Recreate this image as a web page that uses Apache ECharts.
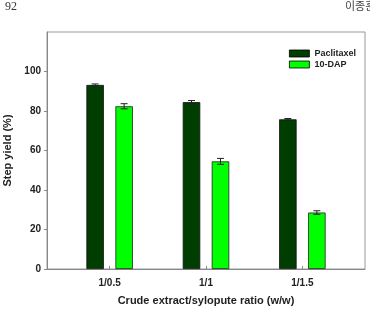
<!DOCTYPE html>
<html>
<head>
<meta charset="utf-8">
<script src="https://cdn.jsdelivr.net/npm/echarts@6/dist/echarts.min.js"></script>
<style>html,body{margin:0;padding:0;background:#fff}#c{width:370px;height:310px}</style>
</head>
<body>
<div id="c"></div>
<script>
var categories = ['1/0.5', '1/1', '1/1.5'];
var paclitaxel = [93.2, 84.5, 75.8];
var paclitaxelErr = [0.5, 0.8, 0.4];
var dap = [82.4, 54.5, 28.6];
var dapErr = [1.3, 1.5, 0.9];
var yTicks = [0, 20, 40, 60, 80, 100];
var seriesNames = ['Paclitaxel', '10-DAP'];

var FONT = "'Liberation Sans', Arial, sans-serif";
var BAR_W = 17.5, BAR_GAP_PX = 11.5;
var half = (BAR_W + BAR_GAP_PX) / 2;

function pts(vals) { return vals.map(function (v, i) { return [i + 1, v]; }); }
function errPts(vals, errs) { return vals.map(function (v, i) { return [i + 1, v - errs[i], v + errs[i]]; }); }

function errRender(offset) {
  return function (params, api) {
    var x = api.value(0);
    var lo = api.coord([x, api.value(1)]);
    var hi = api.coord([x, api.value(2)]);
    var cx = lo[0] + offset;
    var cap = 3.5;
    var st = { stroke: '#222', lineWidth: 1 };
    return {
      type: 'group',
      children: [
        { type: 'line', shape: { x1: cx, y1: lo[1], x2: cx, y2: hi[1] }, style: st },
        { type: 'line', shape: { x1: cx - cap, y1: hi[1], x2: cx + cap, y2: hi[1] }, style: st },
        { type: 'line', shape: { x1: cx - cap, y1: lo[1], x2: cx + cap, y2: lo[1] }, style: st }
      ]
    };
  };
}

var chart = echarts.init(document.getElementById('c'), null, { renderer: 'canvas' });
chart.setOption({
  animation: false,
  textStyle: { fontFamily: FONT },
  grid: { left: 47, right: 5, top: 32, bottom: 41, show: true, borderColor: '#999', borderWidth: 1, outerBoundsMode: 'none', containLabel: false },
  legend: {
    orient: 'vertical', left: 284, top: 44, itemWidth: 20, itemHeight: 7, itemGap: 2,
    icon: 'rect',
    data: seriesNames,
    textStyle: { fontFamily: FONT, fontWeight: 'bold', fontSize: 9, color: '#222', padding: [0, 0, 0, 0] },
    itemStyle: { borderColor: '#000', borderWidth: 0.8 }
  },
  xAxis: {
    type: 'value', min: 0.35, max: 3.65,
    splitLine: { show: false },
    axisLine: { show: true, lineStyle: { color: '#888' } },
    axisTick: { show: true, inside: true, length: 3, lineStyle: { color: '#888' }, customValues: [1, 2, 3] },
    axisLabel: {
      customValues: [1, 2, 3], margin: 9, fontFamily: FONT, fontWeight: 'bold', fontSize: 10, color: '#222',
      formatter: function (v) { return categories[Math.round(v) - 1] || ''; }
    },
    name: 'Crude extract/sylopute ratio (w/w)', nameLocation: 'middle', nameGap: 26,
    nameTextStyle: { fontFamily: FONT, fontWeight: 'bold', fontSize: 11, color: '#222' }
  },
  yAxis: {
    type: 'value', min: 0, max: 120, interval: 20,
    splitLine: { show: false },
    axisLine: { show: true, lineStyle: { color: '#888' } },
    axisTick: { show: true, length: 3, lineStyle: { color: '#888' }, customValues: yTicks },
    axisLabel: {
      customValues: yTicks, margin: 6, fontFamily: FONT, fontWeight: 'bold', fontSize: 10, color: '#222'
    },
    name: 'Step yield (%)', nameLocation: 'middle', nameGap: 26,
    nameTextStyle: { fontFamily: FONT, fontWeight: 'bold', fontSize: 11, color: '#222' }
  },
  graphic: [
    { type: 'text', left: 5, top: 1, style: { text: '92', font: "12px 'Liberation Serif', serif", fill: '#333' } },
    { type: 'text', left: 345, top: 0, style: { text: '이종훈', font: "11px 'Noto Sans CJK KR', sans-serif", fill: '#444' } }
  ],
  series: [
    {
      name: seriesNames[0], type: 'bar', data: pts(paclitaxel), barWidth: BAR_W,
      barGap: (BAR_GAP_PX / BAR_W * 100) + '%',
      itemStyle: { color: '#003d00', borderColor: '#111', borderWidth: 0.8 }
    },
    {
      name: seriesNames[1], type: 'bar', data: pts(dap), barWidth: BAR_W,
      itemStyle: { color: '#00ff00', borderColor: '#222', borderWidth: 0.8 }
    },
    { type: 'custom', data: errPts(paclitaxel, paclitaxelErr), renderItem: errRender(-half), encode: { x: 0, y: [1, 2] }, z: 5, silent: true },
    { type: 'custom', data: errPts(dap, dapErr), renderItem: errRender(half), encode: { x: 0, y: [1, 2] }, z: 5, silent: true }
  ]
});
</script>
</body>
</html>
